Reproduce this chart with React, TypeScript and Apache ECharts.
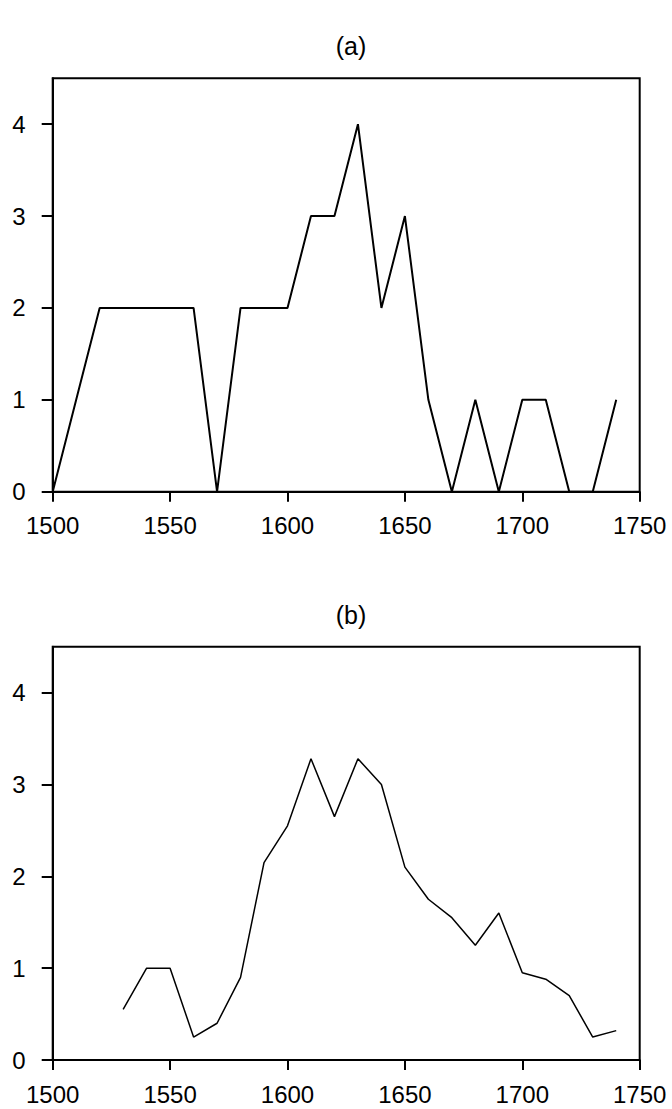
import React, { useEffect, useRef } from "react";
import * as echarts from "echarts";

const yearsA = [1500, 1510, 1520, 1530, 1540, 1550, 1560, 1570, 1580, 1590, 1600, 1610, 1620, 1630, 1640, 1650, 1660, 1670, 1680, 1690, 1700, 1710, 1720, 1730, 1740];
const valuesA = [0, 1, 2, 2, 2, 2, 2, 0, 2, 2, 2, 3, 3, 4, 2, 3, 1, 0, 1, 0, 1, 1, 0, 0, 1];

const yearsB = [1530, 1540, 1550, 1560, 1570, 1580, 1590, 1600, 1610, 1620, 1630, 1640, 1650, 1660, 1670, 1680, 1690, 1700, 1710, 1720, 1730, 1740];
const valuesB = [0.55, 1.0, 1.0, 0.25, 0.4, 0.9, 2.15, 2.55, 3.28, 2.65, 3.28, 3.0, 2.1, 1.75, 1.55, 1.25, 1.6, 0.95, 0.88, 0.7, 0.25, 0.32];

const xTicks = [1500, 1550, 1600, 1650, 1700, 1750];
const yTicks = [0, 1, 2, 3, 4];
const panelTitles = ["(a)", "(b)"];

const FONT = "'Liberation Sans', Arial, sans-serif";

export default function App() {
  const ref = useRef<HTMLDivElement>(null);
  useEffect(() => {
    if (!ref.current) return;
    const chart = echarts.init(ref.current, undefined, { renderer: "svg" });
    const grids = [
      { left: 52.7, width: 587, top: 78.3, height: 413.4 },
      { left: 52.7, width: 587, top: 646.7, height: 413.3 },
    ];
    const mkX = (i: number) => ({
      type: "value",
      gridIndex: i,
      min: 1500,
      max: 1750,
      interval: 50,
      axisLine: { show: true, onZero: false, lineStyle: { color: "#000", width: 2 } },
      axisTick: { show: true, length: 10, inside: false, lineStyle: { color: "#000", width: 2 }, customValues: xTicks },
      axisLabel: { color: "#000", fontSize: 24, fontFamily: FONT, margin: 22, customValues: xTicks, formatter: (v: number) => String(v) },
      splitLine: { show: false },
    });
    const mkY = (i: number) => ({
      type: "value",
      gridIndex: i,
      min: 0,
      max: 4.5,
      interval: 1,
      axisLine: { show: true, lineStyle: { color: "#000", width: 2 } },
      axisTick: { show: true, length: 11, inside: false, lineStyle: { color: "#000", width: 2 }, customValues: yTicks },
      axisLabel: { color: "#000", fontSize: 24, fontFamily: FONT, margin: 27, customValues: yTicks, formatter: (v: number) => String(v) },
      splitLine: { show: false },
    });
    chart.setOption({
      animation: false,
      backgroundColor: "#fff",
      title: [
        { text: panelTitles[0], left: 346, top: 28, textAlign: "center", textStyle: { fontSize: 25, fontWeight: "normal", color: "#000", fontFamily: FONT } },
        { text: panelTitles[1], left: 346, top: 597, textAlign: "center", textStyle: { fontSize: 25, fontWeight: "normal", color: "#000", fontFamily: FONT } },
      ],
      grid: grids.map((g) => ({ ...g, show: true, borderColor: "#000", borderWidth: 2, backgroundColor: "transparent" })),
      xAxis: [mkX(0), mkX(1)],
      yAxis: [mkY(0), mkY(1)],
      series: [
        {
          type: "line",
          xAxisIndex: 0,
          yAxisIndex: 0,
          data: yearsA.map((y, i) => [y, valuesA[i]]),
          showSymbol: false,
          symbol: "none",
          lineStyle: { color: "#000", width: 2 },
        },
        {
          type: "line",
          xAxisIndex: 1,
          yAxisIndex: 1,
          data: yearsB.map((y, i) => [y, valuesB[i]]),
          showSymbol: false,
          symbol: "none",
          lineStyle: { color: "#000", width: 1.5 },
        },
      ],
    });
    return () => chart.dispose();
  }, []);
  return <div ref={ref} style={{ position: "absolute", left: 0, top: 0, width: 672, height: 1109 }} />;
}
